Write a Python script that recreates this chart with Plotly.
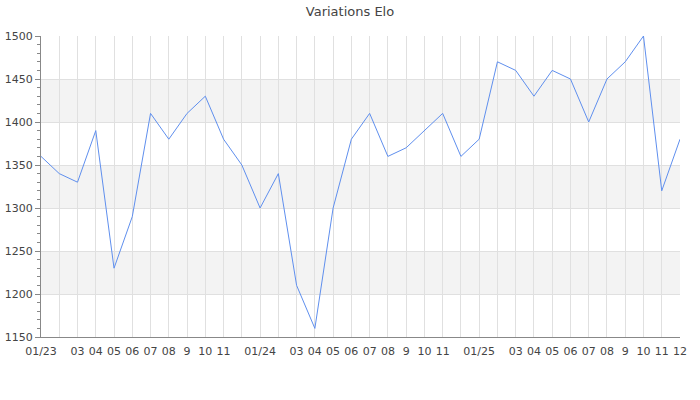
import plotly.graph_objects as go

# Months (Jan 2023 .. Dec 2025)
months = ["2023-01", "2023-02", "2023-03", "2023-04", "2023-05", "2023-06",
          "2023-07", "2023-08", "2023-09", "2023-10", "2023-11", "2023-12",
          "2024-01", "2024-02", "2024-03", "2024-04", "2024-05", "2024-06",
          "2024-07", "2024-08", "2024-09", "2024-10", "2024-11", "2024-12",
          "2025-01", "2025-02", "2025-03", "2025-04", "2025-05", "2025-06",
          "2025-07", "2025-08", "2025-09", "2025-10", "2025-11", "2025-12"]

elo = [1360, 1340, 1330, 1390, 1230, 1290, 1410, 1380, 1410, 1430, 1380, 1350,
       1300, 1340, 1210, 1160, 1300, 1380, 1410, 1360, 1370, 1390, 1410, 1360,
       1380, 1470, 1460, 1430, 1460, 1450, 1400, 1450, 1470, 1500, 1320, 1380]

tick_labels = ["01/23", "", "03", "04", "05", "06", "07", "08", "9", "10", "11", "",
               "01/24", "", "03", "04", "05", "06", "07", "08", "9", "10", "11", "",
               "01/25", "", "03", "04", "05", "06", "07", "08", "9", "10", "11", "12"]

band_ranges = [(1200, 1250), (1300, 1350), (1400, 1450)]

x_idx = list(range(len(months)))

fig = go.Figure()
fig.add_trace(go.Scatter(
    x=x_idx, y=elo, mode="lines",
    line=dict(color="#5f8fee", width=1),
    hoverinfo="y", customdata=months, cliponaxis=False,
))

for lo, hi in band_ranges:
    fig.add_shape(type="rect", xref="paper", yref="y", x0=0, x1=1, y0=lo, y1=hi,
                  fillcolor="#f3f3f3", line=dict(width=0), layer="below")

fig.update_layout(
    width=700, height=400,
    margin=dict(l=41, r=20, t=36, b=63, autoexpand=False),
    paper_bgcolor="white", plot_bgcolor="white",
    font=dict(family="DejaVu Sans", size=11, color="#444"),
    title=dict(text="Variations Elo", x=0.5, xanchor="center", y=0.972, yanchor="middle",
               font=dict(family="DejaVu Sans", size=13, color="#444")),
    showlegend=False,
    xaxis=dict(
        range=[0, len(months) - 1], tickmode="array", tickvals=x_idx, ticktext=tick_labels,
        showgrid=True, gridcolor="#e0e0e0", gridwidth=1,
        showline=True, linecolor="#888", linewidth=1,
        ticks="outside", ticklen=4, tickcolor="rgba(0,0,0,0)",
        zeroline=False, tickangle=0, automargin=False,
        tickfont=dict(size=11, color="#444"),
    ),
    yaxis=dict(
        range=[1150, 1500], tickmode="linear", tick0=1150, dtick=50,
        showgrid=True, gridcolor="#e0e0e0", gridwidth=1,
        showline=True, linecolor="#888", linewidth=1,
        ticks="outside", ticklen=5, tickcolor="#888",
        minor=dict(dtick=10, ticks="outside", ticklen=3, tickcolor="#888", showgrid=False),
        zeroline=False, automargin=False,
        tickfont=dict(size=11, color="#444"),
    ),
)

fig.write_html("out.html", config={"displayModeBar": False},
               post_script="document.body.style.margin='0';")
